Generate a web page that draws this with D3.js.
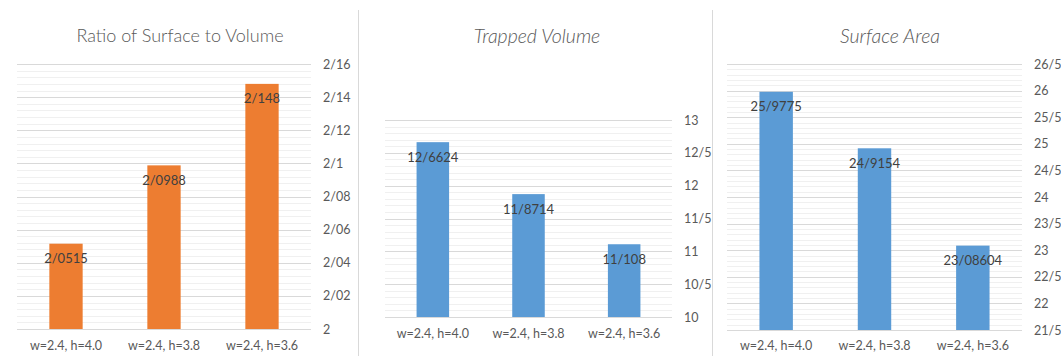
<!DOCTYPE html>
<html>
<head>
<meta charset="utf-8">
<script src="https://cdn.jsdelivr.net/npm/d3@7"></script>
<style>
  body { margin: 0; background: #fff; }
  svg { display: block; font-family: Lato, "Liberation Sans", sans-serif; }
</style>
</head>
<body>
<svg width="1061" height="356"></svg>
<script>
// data
var categories = ["w=2.4, h=4.0", "w=2.4, h=3.8", "w=2.4, h=3.6"];

var ratioValues = [2.0515, 2.0988, 2.148];
var volumeValues = [12.6624, 11.8714, 11.108];
var areaValues = [25.9775, 24.9154, 23.08604];

var ratioTicks = [2, 2.02, 2.04, 2.06, 2.08, 2.1, 2.12, 2.14, 2.16];
var volumeTicks = [10, 10.5, 11, 11.5, 12, 12.5, 13];
var areaTicks = [21.5, 22, 22.5, 23, 23.5, 24, 24.5, 25, 25.5, 26, 26.5];

var svg = d3.select("svg");

// decimal separator in the source is "/"
function fmt(v) { return String(+v.toFixed(6)).replace(".", "/"); }

function drawPanel(cfg) {
    var g = svg.append("g");

    var x = d3.scaleBand()
        .domain(categories)
        .range([cfg.left, cfg.right])
        .paddingInner(0.66)
        .paddingOuter(0.33);

    var y = d3.scaleLinear()
        .domain([cfg.ticks[0], cfg.ticks[cfg.ticks.length - 1]])
        .range([cfg.bottom, cfg.top]);

    // minor grid
    var minor = d3.range(cfg.ticks[0], cfg.ticks[cfg.ticks.length - 1] + 1e-9, cfg.minorStep);
    g.selectAll(".minor")
        .data(minor)
        .enter().append("line")
        .attr("x1", cfg.left).attr("x2", cfg.right)
        .attr("y1", function (d) { return Math.round(y(d)) + 0.5; })
        .attr("y2", function (d) { return Math.round(y(d)) + 0.5; })
        .attr("stroke", "#f0f0f0");

    // major grid
    g.selectAll(".major")
        .data(cfg.ticks)
        .enter().append("line")
        .attr("x1", cfg.left).attr("x2", cfg.right)
        .attr("y1", function (d) { return Math.round(y(d)) + 0.5; })
        .attr("y2", function (d) { return Math.round(y(d)) + 0.5; })
        .attr("stroke", "#d9d9d9");

    var axis = g.append("g")
        .attr("transform", "translate(" + cfg.right + ",0)")
        .call(d3.axisRight(y).tickValues(cfg.ticks).tickSize(0).tickPadding(12).tickFormat(fmt));
    axis.select(".domain").remove();
    axis.selectAll("text")
        .attr("fill", "#595959")
        .style("font-size", "12.5px")
        .style("font-family", "Lato, 'Liberation Sans', sans-serif");

    g.selectAll(".bar")
        .data(cfg.values)
        .enter().append("rect")
        .attr("x", function (d, i) { return x(categories[i]); })
        .attr("width", x.bandwidth())
        .attr("y", function (d) { return y(d); })
        .attr("height", function (d) { return cfg.bottom - y(d); })
        .attr("fill", cfg.color);

    g.selectAll(".lbl")
        .data(cfg.values)
        .enter().append("text")
        .attr("x", function (d, i) { return x(categories[i]) + x.bandwidth() / 2; })
        .attr("y", function (d) { return y(d) + 15; })
        .attr("dy", "0.35em")
        .attr("text-anchor", "middle")
        .attr("fill", "#404040")
        .style("font-size", "13px")
        .text(fmt);

    g.selectAll(".cat")
        .data(categories)
        .enter().append("text")
        .attr("x", function (d) { return x(d) + x.bandwidth() / 2; })
        .attr("y", cfg.bottom + cfg.catGap)
        .attr("dy", "0.35em")
        .attr("text-anchor", "middle")
        .attr("fill", "#595959")
        .style("font-size", "12.5px")
        .text(function (d) { return d; });

    g.append("text")
        .attr("x", cfg.titleX)
        .attr("y", 36)
        .attr("dy", "0.35em")
        .attr("text-anchor", "middle")
        .attr("fill", "#595959")
        .style("font-size", cfg.italic ? "19.5px" : "18px")
        .style("font-weight", 300)
        .style("font-style", cfg.italic ? "italic" : "normal")
        .text(cfg.title);
}

drawPanel({ title: "Ratio of Surface to Volume", italic: false, titleX: 180,
    values: ratioValues, ticks: ratioTicks, minorStep: 0.004, color: "#ED7D31",
    left: 17, right: 311, top: 64, bottom: 329, catGap: 17 });

drawPanel({ title: "Trapped Volume", italic: true, titleX: 537,
    values: volumeValues, ticks: volumeTicks, minorStep: 0.1, color: "#5B9BD5",
    left: 385, right: 672, top: 120, bottom: 317, catGap: 17 });

drawPanel({ title: "Surface Area", italic: true, titleX: 890,
    values: areaValues, ticks: areaTicks, minorStep: 0.1, color: "#5B9BD5",
    left: 727, right: 1022, top: 64, bottom: 330, catGap: 16 });

// panel separators
svg.selectAll(".sep")
    .data([358, 712])
    .enter().append("line")
    .attr("x1", function (d) { return d + 0.5; })
    .attr("x2", function (d) { return d + 0.5; })
    .attr("y1", 10).attr("y2", 356)
    .attr("stroke", "#d9d9d9");
</script>
</body>
</html>
